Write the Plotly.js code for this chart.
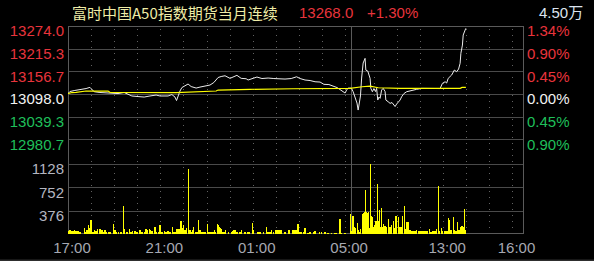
<!DOCTYPE html>
<html>
<head>
<meta charset="utf-8">
<script src="https://cdn.plot.ly/plotly-3.0.1.min.js"></script>
<style>
html,body{margin:0;padding:0;background:#000;}
#chart{width:594px;height:261px;}
</style>
</head>
<body>
<div id="chart"></div>
<script>
// ---------- DATA ----------
const titleText = '富时中国A50指数期货当月连续';
const lastPrice = 13268.0;
const lastChange = '+1.30%';
const totalVolText = '4.50万';
const prevClose = 13098.0;

const priceTimes = [
'17:00','17:05','17:16','17:26','17:36','17:47','17:57','18:02','18:08','18:23',
'18:39','18:54','19:10','19:26','19:36','19:46','20:02','20:18','20:33','20:49',
'20:59','21:10','21:20','21:30','21:38','21:42','21:46','21:51','21:56','22:04',
'22:12','22:20','22:33','22:43','22:56','23:09','23:19','23:30','23:38','23:48',
'00:01','00:11','00:19','00:30','00:43','00:48','01:01','01:11','01:24','01:40',
'01:55','02:08','02:24','02:40','02:54','03:03','03:16','03:29','03:42','03:55',
'04:05','04:18','04:29','04:39','04:47','04:55','05:00','05:04','05:08','05:13',
'09:02','09:06','09:11','09:16','09:19','09:22','09:25','09:28','09:32','09:37',
'09:39','09:44','09:47','09:50','09:52','09:56','10:00','10:04','10:07','10:10',
'10:13','10:16','10:20','10:24','10:29','10:31','10:37','10:42','10:47','10:51',
'10:55','10:59','11:03','11:08','11:12','11:18','11:25','11:31','11:39','11:51',
'12:04','12:21','12:39','12:52','12:58','13:05','13:09','13:13','13:22','13:29',
'13:35','13:40','13:44','13:46','13:50','13:52','13:57','13:59'];
const priceValues = [
13099.3,13104.5,13107.0,13108.3,13111.0,13112.2,13115.3,13111.0,13104.0,13102.0,
13100.6,13100.6,13099.3,13102.0,13098.0,13093.0,13091.5,13090.2,13093.0,13095.4,
13093.0,13094.0,13093.0,13096.7,13090.2,13081.2,13093.0,13105.8,13114.8,13118.7,
13123.9,13117.4,13113.5,13116.0,13118.7,13121.3,13127.8,13140.7,13143.3,13145.3,
13138.6,13142.0,13146.4,13138.6,13137.6,13134.3,13138.6,13142.0,13138.1,13139.4,
13138.1,13136.8,13136.8,13138.1,13142.7,13138.1,13134.3,13133.0,13129.8,13129.0,
13123.1,13122.6,13119.5,13114.8,13109.6,13104.5,13100.6,13108.3,13113.5,13113.5,
13112.2,13104.0,13091.0,13074.7,13056.6,13072.1,13093.0,13139.4,13178.2,13190.3,
13160.0,13157.5,13149.7,13138.6,13112.7,13104.0,13112.2,13104.5,13112.7,13082.5,
13090.2,13086.9,13108.3,13112.7,13104.5,13082.5,13078.1,13073.9,13076.0,13072.1,
13065.7,13072.1,13077.3,13082.5,13091.0,13099.3,13104.0,13105.8,13108.3,13110.2,
13112.7,13112.2,13112.7,13112.2,13125.7,13129.8,13126.5,13138.6,13147.2,13160.0,
13155.7,13162.7,13177.4,13203.3,13224.7,13250.6,13263.5,13268.0];

const avgTimes = ['17:00','17:10','17:21','17:47','18:44','18:49','21:41','22:33','23:25','23:30',
'00:48','00:53','02:45','05:13','09:29','09:50','10:11','11:08','13:44','13:49','13:59'];
const avgValues = [13099.3,13101.9,13102.4,13105.8,13105.8,13102.4,13101.9,13104.0,13105.8,13108.3,
13108.3,13110.2,13111.7,13112.7,13116.9,13118.7,13114.3,13112.7,13112.7,13115.3,13115.3];

const volTimes = [
'17:00','17:03','17:05','17:08','17:10','17:13','17:16','17:18','17:21','17:23',
'17:26','17:31','17:42','17:47','17:49','17:53','17:57','18:00','18:05','18:09',
'18:13','18:17','18:23','18:28','18:31','18:36','18:40','18:45','18:49','18:58',
'19:02','19:06','19:11','19:18','19:24','19:26','19:33','19:39','19:44','19:48',
'19:52','19:55','19:59','20:07','20:12','20:18','20:23','20:27','20:31','20:34',
'20:38','20:46','20:50','20:55','20:59','21:04','21:10','21:15','21:20','21:25',
'21:31','21:35','21:38','21:43','21:47','21:51','21:54','21:56','22:00','22:04',
'22:08','22:13','22:17','22:21','22:24','22:27','22:31','22:35','22:39','22:43',
'22:47','22:51','22:56','23:02','23:05','23:09','23:13','23:17','23:20','23:24',
'23:28','23:31','23:33','23:36','23:39','23:43','23:45','23:50','23:57','00:05',
'00:09','00:11','00:16','00:19','00:27','00:31','00:40','00:48','00:51','00:59',
'01:02','01:14','01:19','01:28','01:35','01:40','01:45','01:49','01:54','02:00',
'02:03','02:07','02:11','02:14','02:24','02:34','02:45','02:50','02:55','02:58',
'03:03','03:07','03:12','03:16','03:24','03:29','03:38','03:42','03:53','03:59',
'04:08','04:16','04:25','04:34','04:38','04:47','04:51','05:00',
'09:00','09:02','09:06','09:09','09:13','09:17','09:19','09:22','09:26','09:30',
'09:32','09:35','09:38','09:39','09:42','09:45','09:48','09:51','09:53','09:56',
'09:58','10:02','10:05','10:09','10:11','10:14','10:17','10:19','10:22','10:24',
'10:29','10:33','10:37','10:42','10:46','10:50','10:53','10:57','10:59','11:03',
'11:06','11:10','11:14','11:19','11:23','11:26','11:30','11:34','11:39','11:43',
'11:47','11:51','11:56','12:00','12:05','12:10','12:15','12:19','12:24','12:28',
'12:32','12:36','12:40','12:43','12:47','12:50','12:56','12:59','13:03','13:07',
'13:10','13:13','13:16','13:20','13:26','13:29','13:33','13:37','13:41','13:45',
'13:49','13:52','13:55','13:58'];
const volValues = [
50,45,60,40,55,45,60,40,50,35,
45,25,100,40,60,140,100,222,30,60,
50,80,80,60,30,65,35,40,25,168,
60,30,40,25,448,80,25,80,30,50,
45,50,25,60,40,25,75,70,75,60,
55,120,30,40,140,40,45,40,45,30,
120,30,40,80,75,85,210,100,140,60,
90,1047,65,40,60,113,40,30,222,60,
30,40,40,157,35,25,30,25,60,40,
168,140,113,100,80,40,40,60,30,40,
50,60,60,30,30,60,30,30,40,178,
60,30,30,40,113,30,40,60,30,70,
70,70,70,60,25,70,70,70,70,157,
30,40,40,90,20,30,30,45,40,30,
30,15,15,15,15,238,22,15,
318,45,297,119,95,178,60,30,80,330,
340,350,707,350,340,350,100,1128,297,270,
119,150,215,804,215,383,110,427,119,160,
135,119,237,119,150,205,95,297,190,270,
119,110,297,448,80,200,200,70,55,55,
55,70,45,55,55,55,55,55,80,40,
55,55,55,80,771,55,95,55,55,55,
55,254,230,70,281,70,55,200,70,119,
135,119,410,65];

const priceTicks = [12980.7, 13039.3, 13098.0, 13156.7, 13215.3, 13274.0];
const priceTickText = ['12980.7','13039.3','13098.0','13156.7','13215.3','13274.0'];
const pctTickText = ['0.90%','0.45%','0.00%','0.45%','0.90%','1.34%'];
const volTicks = [376, 752, 1128];
const volTickText = ['376','752','1128'];
const xTickTimes = ['17:00','21:00','01:00','05:00','13:00','16:00'];
const hourGridTimes = ['18:00','19:00','20:00','21:00','22:00','23:00','00:00','01:00','02:00','03:00','04:00','05:00',
                       '10:00','11:00','12:00','13:00','14:00','15:00','16:00'];
const sessionBreak = '05:15';

// ---------- helpers ----------
// trading-minute index: night 17:00-05:15 then day 09:00-16:30
function toIdx(t){
  const [h,m] = t.split(':').map(Number);
  const tm = h*60+m;
  if (h >= 17) return tm - 17*60;
  if (tm <= 5*60+15) return tm + 7*60;
  return 735 + (tm - 9*60);
}
const SESSION_END = toIdx('16:30');
const PLOT_W = 456, PLOT_H = 208;
const PRICE_DOM = [0.4548, 1], VOL_DOM = [0, 0.3365];
const P_LO = priceTicks[0], P_HI = priceTicks[priceTicks.length-1];
const V_HI = volTicks[volTicks.length-1];

const RED = '#e8343c', GREEN = '#1fbf5a', WHITE = '#f2f2f2';
function colorFor(v){ return v > prevClose ? RED : (v < prevClose ? GREEN : WHITE); }
const FONT = 'Liberation Sans, Arial, Noto Sans CJK SC, sans-serif';
const GRID = '#4a4a4a';
const FRAME = '#5a5a5a';
const DOTS = '#626262';

const priceTickColored = priceTicks.map((v,i)=>`<span style="color:${colorFor(v)}">${priceTickText[i]}</span>`);
const pctTickColored = priceTicks.map((v,i)=>`<span style="color:${colorFor(v)}">${pctTickText[i]}</span>`);

// pixel-snapped paper positions for crisp 1px grid lines
function snapY(frac){ // frac: 0 at top of plot area, 1 at bottom
  const px = Math.min(Math.round(frac*PLOT_H), PLOT_H-1) + 0.5;
  return 1 - px/PLOT_H;
}
function snapX(idx){
  const px = Math.min(Math.round(idx*PLOT_W/SESSION_END), PLOT_W-1) + 0.5;
  return px/PLOT_W;
}
function priceFrac(v){ return (1-PRICE_DOM[1]) + (P_HI - v)/(P_HI-P_LO)*(PRICE_DOM[1]-PRICE_DOM[0]); }
function volFrac(v){ return (1-VOL_DOM[1]) + (V_HI - v)/V_HI*(VOL_DOM[1]-VOL_DOM[0]); }

const shapes = [];
function hLine(yp, color){ shapes.push({type:'line', xref:'paper', yref:'paper', x0:0, x1:1, y0:yp, y1:yp,
  line:{color:color, width:1}, layer:'below'}); }
function vLine(xp, color, dash){ shapes.push({type:'line', xref:'paper', yref:'paper', x0:xp, x1:xp, y0:0, y1:1,
  line:{color:color, width:1, dash:dash||'solid'}, layer:'below'}); }

hourGridTimes.forEach(t=>vLine(snapX(toIdx(t)), DOTS, '1px,5px'));
priceTicks.forEach(v=>hLine(snapY(priceFrac(v)), GRID));
volTicks.forEach(v=>hLine(snapY(volFrac(v)), GRID));
hLine(snapY(0), FRAME);                 // top frame
hLine(snapY(volFrac(0)), FRAME);        // bottom frame
vLine(snapX(0), FRAME);                 // left frame
vLine(snapX(SESSION_END), FRAME);       // right frame
vLine(snapX(toIdx(sessionBreak)), FRAME); // session break
shapes.push({type:'line', xref:'paper', yref:'paper', x0:-0.2, x1:1.2, y0:-0.127, y1:-0.127,
  line:{color:'#2e2e2e', width:2}, layer:'below'});

// ---------- traces ----------
const traces = [
  {type:'bar', x: volTimes.map(toIdx), y: volValues, xaxis:'x', yaxis:'y2',
   width: 3.4, marker:{color:'#ffff00', line:{width:0}}, hoverinfo:'skip'},
  {type:'scatter', mode:'lines', x: priceTimes.map(toIdx), y: priceValues, xaxis:'x', yaxis:'y',
   line:{color:'#ececec', width:1}, hoverinfo:'skip'},
  {type:'scatter', mode:'lines', x: avgTimes.map(toIdx), y: avgValues, xaxis:'x', yaxis:'y',
   line:{color:'#ffff00', width:1.2}, hoverinfo:'skip'},
  {type:'scatter', mode:'lines', x:[0], y:[prevClose], xaxis:'x', yaxis:'y3', hoverinfo:'skip', line:{width:0}}
];

const layout = {
  width:594, height:261,
  paper_bgcolor:'#000000', plot_bgcolor:'rgba(0,0,0,0)',
  margin:{l:68, r:70, t:26, b:27, pad:0},
  showlegend:false,
  bargap:0,
  xaxis:{range:[0, SESSION_END], tickmode:'array', tickvals: xTickTimes.map(toIdx), ticktext: xTickTimes,
    showgrid:false, zeroline:false, showline:false, ticks:'', anchor:'y2',
    ticklabelshift:4, ticklabelstandoff:3, tickfont:{family:FONT, size:15, color:'#a6a8b2'}, fixedrange:true},
  yaxis:{domain:PRICE_DOM, range:[P_LO, P_HI], tickmode:'array',
    tickvals: priceTicks, ticktext: priceTickColored, showgrid:false,
    zeroline:false, showline:false, ticks:'', ticklabelshift:5, ticklabelstandoff:3,
    tickfont:{family:FONT, size:15}},
  yaxis3:{overlaying:'y', side:'right', range:[P_LO, P_HI], tickmode:'array',
    tickvals: priceTicks, ticktext: pctTickColored, showgrid:false, zeroline:false, showline:false, ticks:'',
    ticklabelshift:5, ticklabelstandoff:2, tickfont:{family:FONT, size:15}},
  yaxis2:{domain:VOL_DOM, range:[0, V_HI], tickmode:'array', tickvals: volTicks,
    ticktext: volTickText, showgrid:false, zeroline:false, showline:false,
    ticks:'', ticklabelshift:5, ticklabelstandoff:3, tickfont:{family:FONT, size:15, color:'#b4b6c0'}},
  shapes: shapes,
  annotations:[
    {xref:'paper', yref:'paper', x:(70-68)/456, y:1.065, xanchor:'left', yanchor:'middle', showarrow:false,
     text:titleText, font:{family:'Noto Sans CJK SC, sans-serif', size:15, color:'#efeca6'}},
    {xref:'paper', yref:'paper', x:0.5015, y:1.065, xanchor:'left', yanchor:'middle', showarrow:false,
     text:lastPrice.toFixed(1), font:{family:FONT, size:15, color:RED}},
    {xref:'paper', yref:'paper', x:0.651, y:1.065, xanchor:'left', yanchor:'middle', showarrow:false,
     text:lastChange, font:{family:FONT, size:15, color:RED}},
    {xref:'paper', yref:'paper', x:1.1338, y:1.065, xanchor:'right', yanchor:'middle', showarrow:false,
     text:totalVolText, font:{family:FONT, size:15, color:'#dbe3ee'}}
  ]
};

Plotly.newPlot('chart', traces, layout, {staticPlot:true, displayModeBar:false});
</script>
</body>
</html>
